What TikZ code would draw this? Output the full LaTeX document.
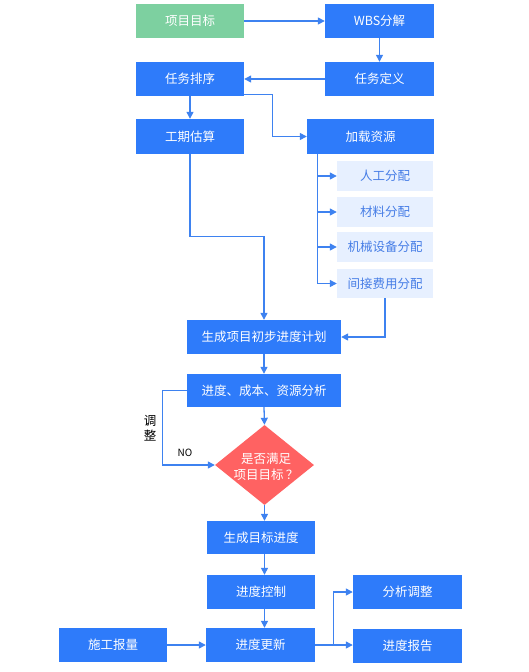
\documentclass[tikz,border=0pt]{standalone}
\usepackage{fontspec}
\setmainfont{Noto Sans CJK SC}
\usetikzlibrary{arrows.meta,shapes.geometric,calc}
\definecolor{boxblue}{RGB}{46,123,250}
\definecolor{lineblue}{RGB}{62,130,240}
\definecolor{lightbox}{RGB}{231,240,255}
\definecolor{lighttext}{RGB}{70,125,230}
\definecolor{goalgreen}{RGB}{125,208,160}
\definecolor{diared}{RGB}{255,98,98}
\begin{document}
\begin{tikzpicture}[x=1pt,y=1pt,
  every node/.style={font=\fontsize{12.5}{15}\selectfont, inner sep=0pt},
  bbox/.style={fill=boxblue, text=white, minimum width=108pt, minimum height=34pt},
  lbox/.style={fill=lightbox, text=lighttext, minimum width=96pt, minimum height=30pt},
  conn/.style={draw=lineblue, line width=1.3pt},
  arr/.style={conn, -{Triangle[length=7pt,width=7pt]}}]
\useasboundingbox (0,0) rectangle (529,-672);
% nodes
\node[bbox, fill=goalgreen] (goal) at (190,-21) {项目目标};
\node[bbox, minimum width=109pt] (wbs) at (379.5,-21) {WBS分解};
\node[bbox] (sort) at (190,-79) {任务排序};
\node[bbox, minimum width=109pt] (def) at (379.5,-79) {任务定义};
\node[bbox, minimum height=35pt] (est) at (190,-136.5) {工期估算};
\node[bbox, minimum width=127pt, minimum height=35pt] (load) at (370.5,-136.5) {加载资源};
\node[lbox] (r1) at (385,-176) {人工分配};
\node[lbox] (r2) at (385,-212) {材料分配};
\node[lbox] (r3) at (385,-247) {机械设备分配};
\node[lbox, minimum height=29pt] (r4) at (385,-283.5) {间接费用分配};
\node[bbox, minimum width=154pt] (plan) at (264,-337) {生成项目初步进度计划};
\node[bbox, minimum width=154pt, minimum height=33pt] (anal) at (264,-390.5) {进度、成本、资源分析};
\node[diamond, fill=diared, minimum width=99pt, minimum height=80pt] (dia) at (264.5,-465) {};
\node[text=white, align=center, font=\fontsize{12.5}{16}\selectfont] (diatext) at (266,-467) {是否满足\\项目目标\,？};
\node[bbox, minimum height=33pt] (tgt) at (261,-537.5) {生成目标进度};
\node[bbox] (ctrl) at (261,-592) {进度控制};
\node[bbox, minimum width=109pt] (upd) at (260.5,-645) {进度更新};
\node[bbox] (rep) at (113,-645) {施工报量};
\node[bbox, minimum width=109pt] (adj) at (407.5,-592) {分析调整};
\node[bbox, minimum width=109pt] (rpt) at (407.5,-646) {进度报告};
\node[align=center, font=\fontsize{12.5}{15}\selectfont] (lbl) at (150,-428) {调\\整};
\node[font=\fontsize{10}{12}\selectfont] (no) at (185,-453) {NO};
% connectors
\draw[arr] (goal.east) -- (wbs.west);
\draw[arr] (wbs.south) -- (def.north);
\draw[arr] (def.west) -- (sort.east);
\draw[arr] (sort.south) -- (est.north);
\draw[arr] ($(sort.south east)+(0,2)$) -- ++(28,0) |- (load.west);
\coordinate (trunktop) at ($(load.south west)+(11,0)$);
\coordinate (trunkbot) at (trunktop |- r4.west);
\draw[conn] (trunktop) -- (trunkbot);
\draw[arr] (trunktop |- r1.west) -- (r1.west);
\draw[arr] (trunktop |- r2.west) -- (r2.west);
\draw[arr] (trunktop |- r3.west) -- (r3.west);
\draw[arr] (trunkbot) -- (r4.west);
\draw[arr] (est.south) |- ($(plan.north)+(0,83)$) -- (plan.north);
\draw[arr] (r4.south) |- (plan.east);
\draw[arr] (plan.south) -- (anal.north);
\draw[arr] (anal.south) -- (dia.north);
\draw[arr] (anal.west) -- ++(-24,0) |- (dia.west);
\draw[arr] (dia.south) -- (dia.south |- tgt.north);
\draw[arr] (tgt.south -| dia.south) -- (ctrl.north -| dia.south);
\draw[arr] (ctrl.south -| dia.south) -- (upd.north -| dia.south);
\draw[arr] (rep.east) -- (upd.west);
\draw[arr] (upd.east) -- (upd.east -| rpt.west);
\draw[arr] (upd.east) -- ++(18,0) |- (adj.west);
\end{tikzpicture}
\end{document}
